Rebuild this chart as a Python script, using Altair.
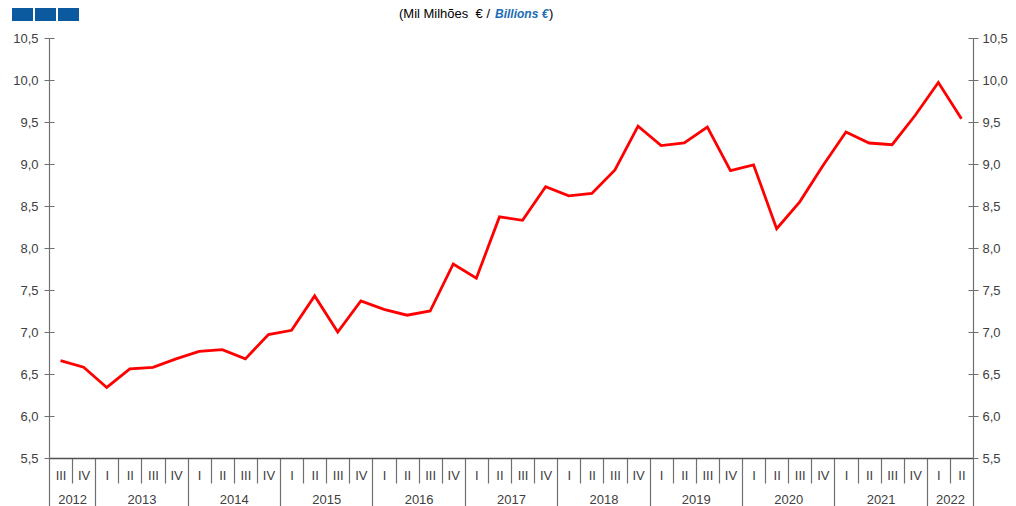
import json
import altair as alt
import pandas as pd

# ---- data ----
years = [2012, 2012,
         2013, 2013, 2013, 2013,
         2014, 2014, 2014, 2014,
         2015, 2015, 2015, 2015,
         2016, 2016, 2016, 2016,
         2017, 2017, 2017, 2017,
         2018, 2018, 2018, 2018,
         2019, 2019, 2019, 2019,
         2020, 2020, 2020, 2020,
         2021, 2021, 2021, 2021,
         2022, 2022]
quarters = ["III", "IV",
            "I", "II", "III", "IV",
            "I", "II", "III", "IV",
            "I", "II", "III", "IV",
            "I", "II", "III", "IV",
            "I", "II", "III", "IV",
            "I", "II", "III", "IV",
            "I", "II", "III", "IV",
            "I", "II", "III", "IV",
            "I", "II", "III", "IV",
            "I", "II"]
values = [6.66, 6.58,
          6.34, 6.56, 6.58, 6.68,
          6.77, 6.79, 6.68, 6.97,
          7.02, 7.43, 7.00, 7.37,
          7.27, 7.20, 7.25, 7.81,
          7.64, 8.37, 8.33, 8.73,
          8.62, 8.65, 8.93, 9.45,
          9.22, 9.25, 9.44, 8.92,
          8.99, 8.23, 8.55, 8.98,
          9.38, 9.25, 9.23, 9.58,
          9.97, 9.54]
y_ticks = [5.5, 6.0, 6.5, 7.0, 7.5, 8.0, 8.5, 9.0, 9.5, 10.0, 10.5]
title_pt = "(Mil Milhões\u00a0\u00a0€\u00a0/"
title_en = "Billions €"
title_end = ")"

# ---- derived tables ----
n = len(values)
df = pd.DataFrame({
    "pos": [i + 0.5 for i in range(n)],
    "value": values,
    "year": years,
    "quarter": quarters,
})
bounds = [0] + [i for i in range(1, n) if years[i] != years[i - 1]] + [n]
centers = [(bounds[k] + bounds[k + 1]) / 2 for k in range(len(bounds) - 1)]

W, H = 924, 420
AX = "#707070"
TXT = "#404040"
FONT = "Liberation Sans"
FS = 13

xscale = alt.Scale(domain=[0, n], nice=False, zero=False)
yscale = alt.Scale(domain=[y_ticks[0], y_ticks[-1]], nice=False, zero=False)
yfmt = "replace(format(datum.value, '.1f'), '.', ',')"

x_quarter_labels = alt.Axis(
    orient="bottom", values=[i + 0.5 for i in range(n)],
    labelExpr=f"{json.dumps(quarters)}[floor(datum.value)]",
    ticks=False, tickSize=0, domain=True, domainColor="#505050", domainWidth=1.5,
    labelPadding=11, labelFontSize=FS, labelColor=TXT, labelFont=FONT,
    labelFlush=False, labelOverlap=False, grid=False, title=None)
x_separators = alt.Axis(
    orient="bottom", values=list(range(n + 1)), labels=False, domain=False,
    ticks=True, tickColor=AX, tickWidth=1.2,
    tickSize={"condition": {"test": f"indexof({json.dumps(bounds)}, datum.value) >= 0", "value": 48},
              "value": 25},
    grid=False, title=None)
x_year_labels = alt.Axis(
    orient="bottom", values=centers,
    labelExpr=f"{json.dumps([str(y) for y in years])}[floor(datum.value)]",
    ticks=False, tickSize=0, domain=False, labelPadding=35,
    labelFontSize=FS, labelColor=TXT, labelFont=FONT,
    labelFlush=False, labelOverlap=False, grid=False, title=None)

# left axis; its dashed grid draws the short inner half of the crossing ticks on both sides
y_left = alt.Axis(orient="left", values=y_ticks, labelExpr=yfmt, tickSize=5,
                  tickColor=AX, domainColor=AX, domainWidth=1.2, labelPadding=6, labelFontSize=FS,
                  labelColor=TXT, labelFont=FONT, labelFlush=False, labelOverlap=False,
                  grid=True, gridColor=AX, gridWidth=1, gridDash=[5, W - 10],
                  title=None)
y_right = alt.Axis(orient="right", values=y_ticks, labelExpr=yfmt, tickSize=5,
                   tickColor=AX, domainColor=AX, domainWidth=1.2, labelPadding=4, labelFontSize=FS,
                   labelColor=TXT, labelFont=FONT, labelFlush=False, labelOverlap=False,
                   grid=False, title=None)


def line_layer(x_axis, y_axis, opacity):
    return alt.Chart(df).mark_line(color="#ff0000", strokeWidth=2.8, opacity=opacity).encode(
        x=alt.X("pos:Q", scale=xscale, axis=x_axis),
        y=alt.Y("value:Q", scale=yscale, axis=y_axis),
    )


L2 = line_layer(x_separators, y_right, 0)
L3 = line_layer(x_year_labels, None, 0)
L1 = line_layer(x_quarter_labels, y_left, 1)

one = alt.Data(values=[{}])
TY = -20  # title baseline, relative to the plot top
t1 = alt.Chart(one).mark_text(text=title_pt, align="right", baseline="alphabetic", font=FONT,
                              fontSize=13, color="#000000").encode(
    x=alt.value(441), y=alt.value(TY))
t2 = alt.Chart(one).mark_text(text=title_en, align="left", baseline="alphabetic", font=FONT,
                              fontSize=12, fontWeight="bold", fontStyle="italic",
                              color="#1b6db3").encode(
    x=alt.value(446), y=alt.value(TY))
t3 = alt.Chart(one).mark_text(text=title_end, align="left", baseline="alphabetic", font=FONT,
                              fontSize=13, color="#000000").encode(
    x=alt.value(500), y=alt.value(TY))

LOGO = "#0b5aa0"
logo = [alt.Chart(one).mark_rect(color=LOGO).encode(
    x=alt.value(x0), x2=alt.value(x0 + 21), y=alt.value(-30), y2=alt.value(-17))
    for x0 in (-37, -14, 9)]

chart = alt.layer(L2, L3, L1, t1, t2, t3, *logo).resolve_axis(
    x="independent", y="independent"
).properties(
    width=W, height=H,
    padding={"left": 41, "top": 30, "right": 35, "bottom": 48},
    autosize=alt.AutoSizeParams(type="none"),
    background="white",
).configure_view(stroke=None)

chart.save("out.html", embed_options={"renderer": "svg", "actions": False})
